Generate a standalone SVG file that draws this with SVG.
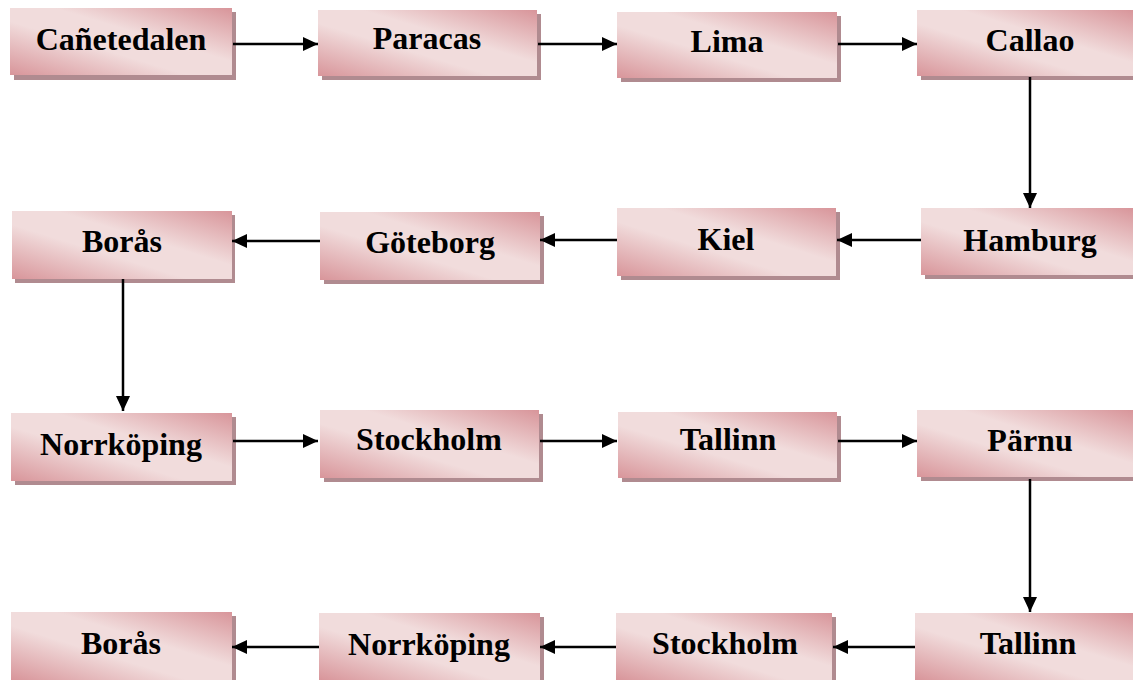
<svg xmlns="http://www.w3.org/2000/svg" width="1133" height="680" viewBox="0 0 1133 680">
<defs>
<linearGradient id="g" x1="0" y1="1" x2="1" y2="0">
<stop offset="0" stop-color="#d8959a"/>
<stop offset="0.4" stop-color="#f1dcdc"/>
<stop offset="0.6" stop-color="#f1dcdc"/>
<stop offset="1" stop-color="#d8959a"/>
</linearGradient>
<marker id="ah" markerUnits="userSpaceOnUse" markerWidth="16" markerHeight="14" refX="15" refY="7" orient="auto">
<path d="M0,0 L15,7 L0,14 Z" fill="#000"/>
</marker>
<style>
.sh{fill:#b08b90}
.bx{fill:url(#g)}
.t{font-family:"Liberation Serif","Times New Roman",serif;font-weight:bold;font-size:32px;fill:#000;text-anchor:middle}
.c{stroke:#000;stroke-width:2.5;fill:none;marker-end:url(#ah)}
</style>
</defs>
<rect width="1133" height="680" fill="#fff"/>
<g id="n1"><rect class="sh" x="14" y="12" width="222" height="68"/><rect class="bx" x="10" y="8" width="222" height="67"/><text class="t" x="121" y="50">Cañetedalen</text></g>
<g id="n2"><rect class="sh" x="322" y="14" width="219" height="66"/><rect class="bx" x="318" y="10" width="219" height="66"/><text class="t" x="427" y="49">Paracas</text></g>
<g id="n3"><rect class="sh" x="621" y="16" width="220" height="66"/><rect class="bx" x="617" y="12" width="220" height="66"/><text class="t" x="727" y="52">Lima</text></g>
<g id="n4"><rect class="sh" x="921" y="14" width="216" height="66"/><rect class="bx" x="917" y="10" width="216" height="66"/><text class="t" x="1030" y="51">Callao</text></g>
<g id="n5"><rect class="sh" x="925" y="212" width="212" height="67"/><rect class="bx" x="921" y="208" width="212" height="67"/><text class="t" x="1030" y="251">Hamburg</text></g>
<g id="n6"><rect class="sh" x="621" y="212" width="219" height="68"/><rect class="bx" x="617" y="208" width="219" height="68"/><text class="t" x="726" y="250">Kiel</text></g>
<g id="n7"><rect class="sh" x="324" y="216" width="220" height="68"/><rect class="bx" x="320" y="212" width="220" height="68"/><text class="t" x="430" y="253">Göteborg</text></g>
<g id="n8"><rect class="sh" x="15" y="215" width="220" height="68"/><rect class="bx" x="12" y="211" width="220" height="68"/><text class="t" x="122" y="252">Borås</text></g>
<g id="n9"><rect class="sh" x="15" y="417" width="221" height="68"/><rect class="bx" x="11" y="413" width="221" height="68"/><text class="t" x="121" y="455">Norrköping</text></g>
<g id="n10"><rect class="sh" x="324" y="414" width="219" height="68"/><rect class="bx" x="320" y="410" width="219" height="68"/><text class="t" x="429" y="450">Stockholm</text></g>
<g id="n11"><rect class="sh" x="622" y="416" width="219" height="66"/><rect class="bx" x="618" y="412" width="219" height="66"/><text class="t" x="728" y="450">Tallinn</text></g>
<g id="n12"><rect class="sh" x="921" y="414" width="216" height="67"/><rect class="bx" x="917" y="410" width="216" height="67"/><text class="t" x="1030" y="451">Pärnu</text></g>
<g id="n13"><rect class="sh" x="919" y="617" width="218" height="67"/><rect class="bx" x="915" y="613" width="218" height="67"/><text class="t" x="1028" y="654">Tallinn</text></g>
<g id="n14"><rect class="sh" x="620" y="617" width="216" height="67"/><rect class="bx" x="616" y="613" width="216" height="67"/><text class="t" x="725" y="654">Stockholm</text></g>
<g id="n15"><rect class="sh" x="323" y="617" width="221" height="67"/><rect class="bx" x="319" y="613" width="221" height="67"/><text class="t" x="429" y="655">Norrköping</text></g>
<g id="n16"><rect class="sh" x="15" y="616" width="221" height="68"/><rect class="bx" x="11" y="612" width="221" height="68"/><text class="t" x="121" y="654">Borås</text></g>
<g id="connectors">
<line class="c" x1="233" y1="44" x2="318" y2="44"/>
<line class="c" x1="538" y1="44" x2="617" y2="44"/>
<line class="c" x1="838" y1="44" x2="917" y2="44"/>
<line class="c" x1="1030" y1="77" x2="1030" y2="208"/>
<line class="c" x1="921" y1="240" x2="837" y2="240"/>
<line class="c" x1="617" y1="240" x2="540" y2="240"/>
<line class="c" x1="320" y1="241" x2="232" y2="241"/>
<line class="c" x1="123" y1="279" x2="123" y2="411"/>
<line class="c" x1="233" y1="441" x2="318" y2="441"/>
<line class="c" x1="540" y1="441" x2="617" y2="441"/>
<line class="c" x1="838" y1="441" x2="917" y2="441"/>
<line class="c" x1="1030" y1="479" x2="1030" y2="612"/>
<line class="c" x1="915" y1="647" x2="833" y2="647"/>
<line class="c" x1="616" y1="647" x2="540" y2="647"/>
<line class="c" x1="319" y1="647" x2="232" y2="647"/>
</g>
</svg>
